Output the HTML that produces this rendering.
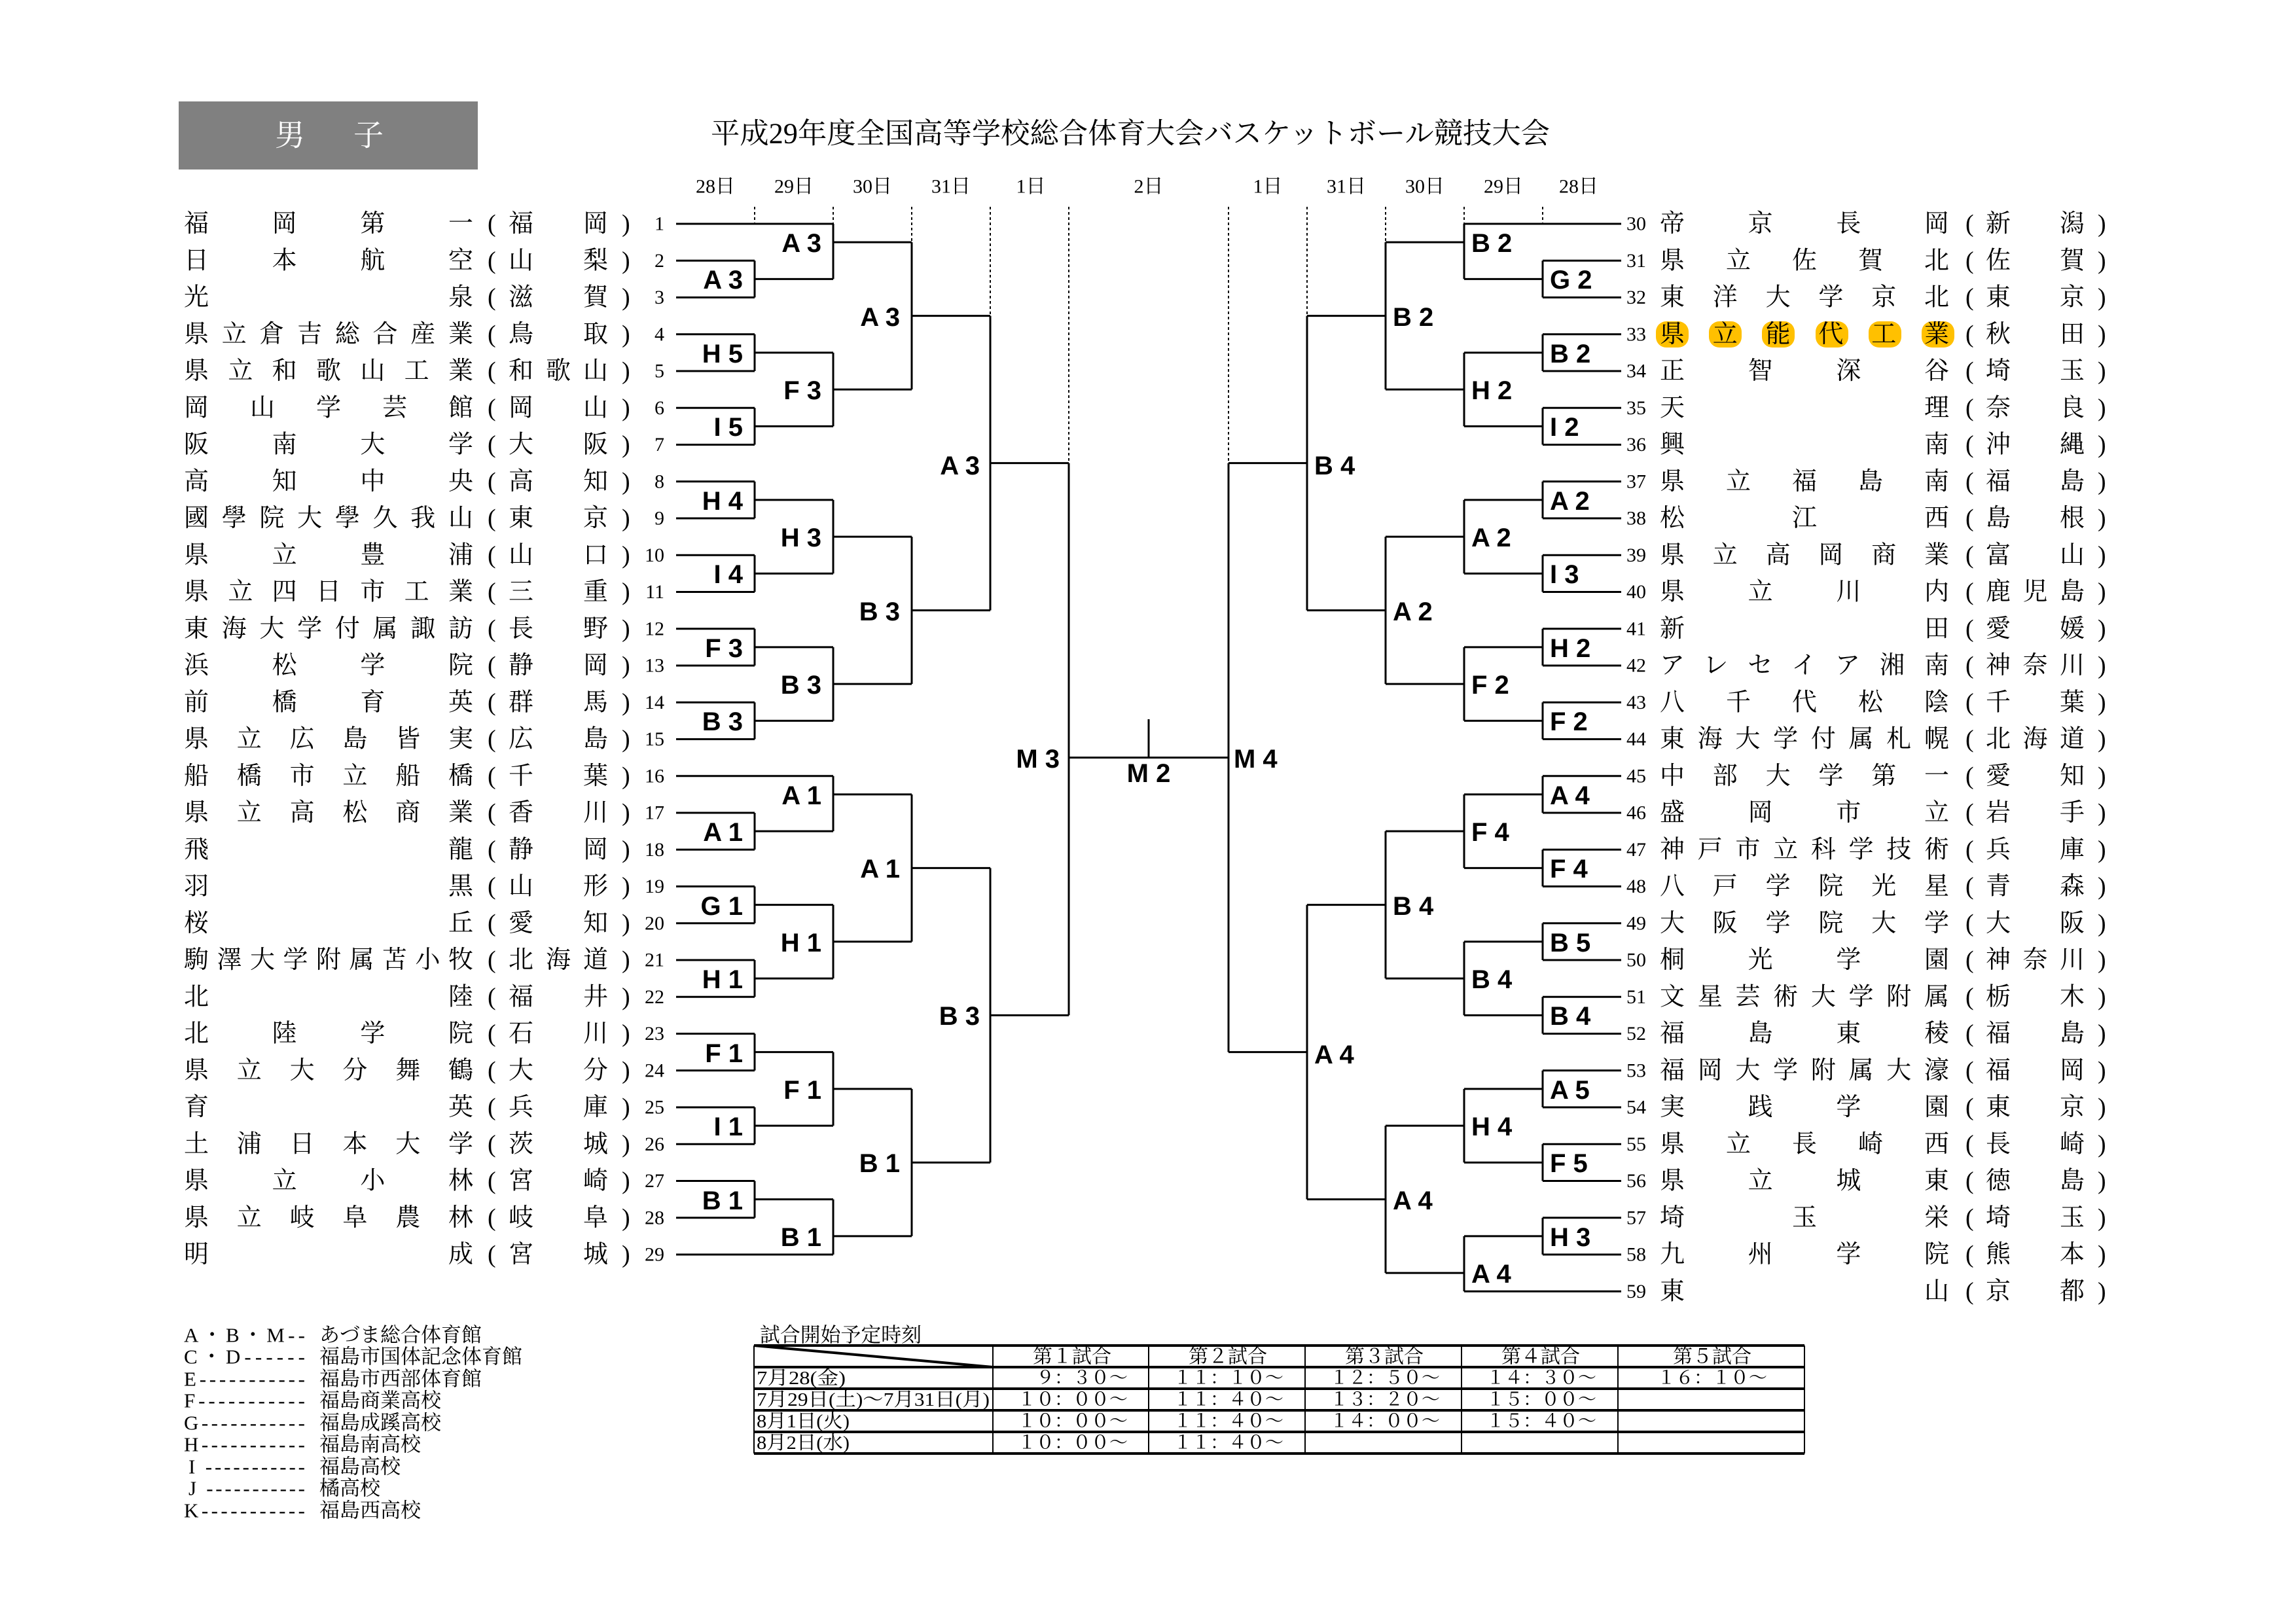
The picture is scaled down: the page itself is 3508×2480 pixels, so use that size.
<!DOCTYPE html>
<html><head><meta charset="utf-8"><style>
html,body{margin:0;padding:0;background:#fff}
svg{display:block}
.s{font-family:"Liberation Serif","Noto Serif CJK SC","Noto Serif CJK JP",serif;fill:#000}
.nm{font-size:38px}
.no{font-size:30px}
.lb{font-family:"Liberation Sans","Noto Sans CJK SC",sans-serif;font-weight:bold;font-size:40px;fill:#000}
.ln{fill:none;stroke:#000;stroke-width:3}
.dt{fill:none;stroke:#000;stroke-width:2;stroke-dasharray:4 4}
</style></head><body>
<svg xmlns="http://www.w3.org/2000/svg" width="3508" height="2480" viewBox="0 0 3508 2480">
<rect width="3508" height="2480" fill="#fff"/>
<rect x="273" y="155" width="457" height="104" fill="#808080"/>
<text class="s" x="420" y="207" font-size="46" fill="#fff" style="fill:#fff" dominant-baseline="central">男</text>
<text class="s" x="540" y="207" font-size="46" style="fill:#fff" dominant-baseline="central">子</text>
<text class="s" x="1086" y="204" font-size="44" textLength="1282" lengthAdjust="spacingAndGlyphs" dominant-baseline="central">平成29年度全国高等学校総合体育大会バスケットボール競技大会</text>

<g class="s" font-size="30" text-anchor="middle" dominant-baseline="central">
<text x="1093" y="285">28日</text><text x="1213" y="285">29日</text><text x="1333" y="285">30日</text><text x="1453" y="285">31日</text><text x="1575" y="285">1日</text>
<text x="1755" y="285">2日</text>
<text x="1937" y="285">1日</text><text x="2057" y="285">31日</text><text x="2177" y="285">30日</text><text x="2297" y="285">29日</text><text x="2412" y="285">28日</text>
</g>

<path class="dt" d="M1153 316V342M1273 316V342M1393 316V370M1513 316V482.6M1633 316V707.6M2357 316V342M2237 316V342M2117 316V370M1997 316V482.6M1877 316V707.6"/>

<!-- left bracket -->
<path class="ln" d="
M1033 342H1273
M1033 398.25H1153M1033 454.5H1153M1033 510.75H1153M1033 567H1153M1033 623.25H1153M1033 679.5H1153M1033 735.75H1153M1033 792H1153M1033 848.25H1153M1033 904.5H1153M1033 960.75H1153M1033 1017H1153M1033 1073.25H1153M1033 1129.5H1153
M1033 1185.75H1273
M1033 1242H1153M1033 1298.25H1153M1033 1354.5H1153M1033 1410.75H1153M1033 1467H1153M1033 1523.25H1153M1033 1579.5H1153M1033 1635.75H1153M1033 1692H1153M1033 1748.25H1153M1033 1804.5H1153M1033 1860.75H1153
M1033 1917H1273
M1153 398.25V454.5M1153 426.4H1273
M1153 510.75V567M1153 538.9H1273
M1153 623.25V679.5M1153 651.4H1273
M1153 735.75V792M1153 763.9H1273
M1153 848.25V904.5M1153 876.4H1273
M1153 960.75V1017M1153 988.9H1273
M1153 1073.25V1129.5M1153 1101.4H1273
M1153 1242V1298.25M1153 1270.1H1273
M1153 1354.5V1410.75M1153 1382.6H1273
M1153 1467V1523.25M1153 1495.1H1273
M1153 1579.5V1635.75M1153 1607.6H1273
M1153 1692V1748.25M1153 1720.1H1273
M1153 1804.5V1860.75M1153 1832.6H1273
M1273 342V426.4M1273 370.1H1393
M1273 538.9V651.4M1273 595.1H1393
M1273 763.9V876.4M1273 820.1H1393
M1273 988.9V1101.4M1273 1045.1H1393
M1273 1185.75V1270.1M1273 1213.9H1393
M1273 1382.6V1495.1M1273 1438.9H1393
M1273 1607.6V1720.1M1273 1663.9H1393
M1273 1832.6V1917M1273 1888.9H1393
M1393 370.1V595.1M1393 482.6H1513
M1393 820.1V1045.1M1393 932.6H1513
M1393 1213.9V1438.9M1393 1326.4H1513
M1393 1663.9V1888.9M1393 1776.4H1513
M1513 482.6V932.6M1513 707.6H1633
M1513 1326.4V1776.4M1513 1551.4H1633
M1633 707.6V1551.4
M1633 1157.6H1877
M1755 1099V1157.6
"/>
<!-- right bracket -->
<path class="ln" d="
M2477 342H2237
M2477 398.25H2357M2477 454.5H2357M2477 510.75H2357M2477 567H2357M2477 623.25H2357M2477 679.5H2357M2477 735.75H2357M2477 792H2357M2477 848.25H2357M2477 904.5H2357M2477 960.75H2357M2477 1017H2357M2477 1073.25H2357M2477 1129.5H2357M2477 1185.75H2357M2477 1242H2357M2477 1298.25H2357M2477 1354.5H2357M2477 1410.75H2357M2477 1467H2357M2477 1523.25H2357M2477 1579.5H2357M2477 1635.75H2357M2477 1692H2357M2477 1748.25H2357M2477 1804.5H2357M2477 1860.75H2357M2477 1917H2357
M2477 1973.25H2237
M2357 398.25V454.5M2357 426.4H2237
M2357 510.75V567M2357 538.9H2237
M2357 623.25V679.5M2357 651.4H2237
M2357 735.75V792M2357 763.9H2237
M2357 848.25V904.5M2357 876.4H2237
M2357 960.75V1017M2357 988.9H2237
M2357 1073.25V1129.5M2357 1101.4H2237
M2357 1185.75V1242M2357 1213.9H2237
M2357 1298.25V1354.5M2357 1326.4H2237
M2357 1410.75V1467M2357 1438.9H2237
M2357 1523.25V1579.5M2357 1551.4H2237
M2357 1635.75V1692M2357 1663.9H2237
M2357 1748.25V1804.5M2357 1776.4H2237
M2357 1860.75V1917M2357 1888.9H2237
M2237 342V426.4M2237 370.1H2117
M2237 538.9V651.4M2237 595.1H2117
M2237 763.9V876.4M2237 820.1H2117
M2237 988.9V1101.4M2237 1045.1H2117
M2237 1213.9V1326.4M2237 1270.1H2117
M2237 1438.9V1551.4M2237 1495.1H2117
M2237 1663.9V1776.4M2237 1720.1H2117
M2237 1888.9V1973.25M2237 1945.1H2117
M2117 370.1V595.1M2117 482.6H1997
M2117 820.1V1045.1M2117 932.6H1997
M2117 1270.1V1495.1M2117 1382.6H1997
M2117 1720.1V1945.1M2117 1832.6H1997
M1997 482.6V932.6M1997 707.6H1877
M1997 1382.6V1832.6M1997 1607.6H1877
M1877 707.6V1607.6
"/>

<!-- left labels -->
<g class="lb" text-anchor="end" dominant-baseline="central">
<text x="1135" y="428">A 3</text><text x="1135" y="541">H 5</text><text x="1135" y="653">I 5</text><text x="1135" y="766">H 4</text><text x="1135" y="878">I 4</text><text x="1135" y="991">F 3</text><text x="1135" y="1103">B 3</text><text x="1135" y="1272">A 1</text><text x="1135" y="1385">G 1</text><text x="1135" y="1497">H 1</text><text x="1135" y="1610">F 1</text><text x="1135" y="1722">I 1</text><text x="1135" y="1835">B 1</text>
<text x="1255" y="372">A 3</text><text x="1255" y="597">F 3</text><text x="1255" y="822">H 3</text><text x="1255" y="1047">B 3</text><text x="1255" y="1216">A 1</text><text x="1255" y="1441">H 1</text><text x="1255" y="1666">F 1</text><text x="1255" y="1891">B 1</text>
<text x="1375" y="485">A 3</text><text x="1375" y="935">B 3</text><text x="1375" y="1328">A 1</text><text x="1375" y="1778">B 1</text>
<text x="1497" y="712">A 3</text><text x="1497" y="1553">B 3</text>
<text x="1619" y="1160">M 3</text>
</g>
<text class="lb" x="1755" y="1182" text-anchor="middle" dominant-baseline="central">M 2</text>
<!-- right labels -->
<g class="lb" dominant-baseline="central">
<text x="2368" y="428">G 2</text><text x="2368" y="541">B 2</text><text x="2368" y="653">I 2</text><text x="2368" y="766">A 2</text><text x="2368" y="878">I 3</text><text x="2368" y="991">H 2</text><text x="2368" y="1103">F 2</text><text x="2368" y="1216">A 4</text><text x="2368" y="1328">F 4</text><text x="2368" y="1441">B 5</text><text x="2368" y="1553">B 4</text><text x="2368" y="1666">A 5</text><text x="2368" y="1778">F 5</text><text x="2368" y="1891">H 3</text>
<text x="2248" y="372">B 2</text><text x="2248" y="597">H 2</text><text x="2248" y="822">A 2</text><text x="2248" y="1047">F 2</text><text x="2248" y="1272">F 4</text><text x="2248" y="1497">B 4</text><text x="2248" y="1722">H 4</text><text x="2248" y="1947">A 4</text>
<text x="2128" y="485">B 2</text><text x="2128" y="935">A 2</text><text x="2128" y="1385">B 4</text><text x="2128" y="1835">A 4</text>
<text x="2008" y="712">B 4</text><text x="2008" y="1612">A 4</text>
<text x="1885" y="1160">M 4</text>
</g>

<!-- highlight row 33 -->
<g fill="#FFC000">
<rect x="2530" y="491" width="50" height="40" rx="16"/><rect x="2611" y="491" width="50" height="40" rx="16"/><rect x="2692" y="491" width="50" height="40" rx="16"/><rect x="2774" y="491" width="50" height="40" rx="16"/><rect x="2855" y="491" width="50" height="40" rx="16"/><rect x="2936" y="491" width="50" height="40" rx="16"/>
</g>

<!-- left teams -->
<g class="s nm" dominant-baseline="central">
<text x="281" y="342" textLength="442" lengthAdjust="spacing">福岡第一</text>
<text x="281" y="398.25" textLength="442" lengthAdjust="spacing">日本航空</text>
<text x="281" y="454.5" textLength="442" lengthAdjust="spacing">光泉</text>
<text x="281" y="510.75" textLength="442" lengthAdjust="spacing">県立倉吉総合産業</text>
<text x="281" y="567" textLength="442" lengthAdjust="spacing">県立和歌山工業</text>
<text x="281" y="623.25" textLength="442" lengthAdjust="spacing">岡山学芸館</text>
<text x="281" y="679.5" textLength="442" lengthAdjust="spacing">阪南大学</text>
<text x="281" y="735.75" textLength="442" lengthAdjust="spacing">高知中央</text>
<text x="281" y="792" textLength="442" lengthAdjust="spacing">國學院大學久我山</text>
<text x="281" y="848.25" textLength="442" lengthAdjust="spacing">県立豊浦</text>
<text x="281" y="904.5" textLength="442" lengthAdjust="spacing">県立四日市工業</text>
<text x="281" y="960.75" textLength="442" lengthAdjust="spacing">東海大学付属諏訪</text>
<text x="281" y="1017" textLength="442" lengthAdjust="spacing">浜松学院</text>
<text x="281" y="1073.25" textLength="442" lengthAdjust="spacing">前橋育英</text>
<text x="281" y="1129.5" textLength="442" lengthAdjust="spacing">県立広島皆実</text>
<text x="281" y="1185.75" textLength="442" lengthAdjust="spacing">船橋市立船橋</text>
<text x="281" y="1242" textLength="442" lengthAdjust="spacing">県立高松商業</text>
<text x="281" y="1298.25" textLength="442" lengthAdjust="spacing">飛龍</text>
<text x="281" y="1354.5" textLength="442" lengthAdjust="spacing">羽黒</text>
<text x="281" y="1410.75" textLength="442" lengthAdjust="spacing">桜丘</text>
<text x="281" y="1467" textLength="442" lengthAdjust="spacing">駒澤大学附属苫小牧</text>
<text x="281" y="1523.25" textLength="442" lengthAdjust="spacing">北陸</text>
<text x="281" y="1579.5" textLength="442" lengthAdjust="spacing">北陸学院</text>
<text x="281" y="1635.75" textLength="442" lengthAdjust="spacing">県立大分舞鶴</text>
<text x="281" y="1692" textLength="442" lengthAdjust="spacing">育英</text>
<text x="281" y="1748.25" textLength="442" lengthAdjust="spacing">土浦日本大学</text>
<text x="281" y="1804.5" textLength="442" lengthAdjust="spacing">県立小林</text>
<text x="281" y="1860.75" textLength="442" lengthAdjust="spacing">県立岐阜農林</text>
<text x="281" y="1917" textLength="442" lengthAdjust="spacing">明成</text>
</g>
<g class="s nm" dominant-baseline="central">
<text x="777" y="342" textLength="152" lengthAdjust="spacing">福岡</text>
<text x="777" y="398.25" textLength="152" lengthAdjust="spacing">山梨</text>
<text x="777" y="454.5" textLength="152" lengthAdjust="spacing">滋賀</text>
<text x="777" y="510.75" textLength="152" lengthAdjust="spacing">鳥取</text>
<text x="777" y="567" textLength="152" lengthAdjust="spacing">和歌山</text>
<text x="777" y="623.25" textLength="152" lengthAdjust="spacing">岡山</text>
<text x="777" y="679.5" textLength="152" lengthAdjust="spacing">大阪</text>
<text x="777" y="735.75" textLength="152" lengthAdjust="spacing">高知</text>
<text x="777" y="792" textLength="152" lengthAdjust="spacing">東京</text>
<text x="777" y="848.25" textLength="152" lengthAdjust="spacing">山口</text>
<text x="777" y="904.5" textLength="152" lengthAdjust="spacing">三重</text>
<text x="777" y="960.75" textLength="152" lengthAdjust="spacing">長野</text>
<text x="777" y="1017" textLength="152" lengthAdjust="spacing">静岡</text>
<text x="777" y="1073.25" textLength="152" lengthAdjust="spacing">群馬</text>
<text x="777" y="1129.5" textLength="152" lengthAdjust="spacing">広島</text>
<text x="777" y="1185.75" textLength="152" lengthAdjust="spacing">千葉</text>
<text x="777" y="1242" textLength="152" lengthAdjust="spacing">香川</text>
<text x="777" y="1298.25" textLength="152" lengthAdjust="spacing">静岡</text>
<text x="777" y="1354.5" textLength="152" lengthAdjust="spacing">山形</text>
<text x="777" y="1410.75" textLength="152" lengthAdjust="spacing">愛知</text>
<text x="777" y="1467" textLength="152" lengthAdjust="spacing">北海道</text>
<text x="777" y="1523.25" textLength="152" lengthAdjust="spacing">福井</text>
<text x="777" y="1579.5" textLength="152" lengthAdjust="spacing">石川</text>
<text x="777" y="1635.75" textLength="152" lengthAdjust="spacing">大分</text>
<text x="777" y="1692" textLength="152" lengthAdjust="spacing">兵庫</text>
<text x="777" y="1748.25" textLength="152" lengthAdjust="spacing">茨城</text>
<text x="777" y="1804.5" textLength="152" lengthAdjust="spacing">宮崎</text>
<text x="777" y="1860.75" textLength="152" lengthAdjust="spacing">岐阜</text>
<text x="777" y="1917" textLength="152" lengthAdjust="spacing">宮城</text>
</g>
<g class="s nm" dominant-baseline="central">
<text x="745" y="342">(</text><text x="745" y="398.25">(</text><text x="745" y="454.5">(</text><text x="745" y="510.75">(</text><text x="745" y="567">(</text><text x="745" y="623.25">(</text><text x="745" y="679.5">(</text><text x="745" y="735.75">(</text><text x="745" y="792">(</text><text x="745" y="848.25">(</text><text x="745" y="904.5">(</text><text x="745" y="960.75">(</text><text x="745" y="1017">(</text><text x="745" y="1073.25">(</text><text x="745" y="1129.5">(</text><text x="745" y="1185.75">(</text><text x="745" y="1242">(</text><text x="745" y="1298.25">(</text><text x="745" y="1354.5">(</text><text x="745" y="1410.75">(</text><text x="745" y="1467">(</text><text x="745" y="1523.25">(</text><text x="745" y="1579.5">(</text><text x="745" y="1635.75">(</text><text x="745" y="1692">(</text><text x="745" y="1748.25">(</text><text x="745" y="1804.5">(</text><text x="745" y="1860.75">(</text><text x="745" y="1917">(</text>
<text x="950" y="342">)</text><text x="950" y="398.25">)</text><text x="950" y="454.5">)</text><text x="950" y="510.75">)</text><text x="950" y="567">)</text><text x="950" y="623.25">)</text><text x="950" y="679.5">)</text><text x="950" y="735.75">)</text><text x="950" y="792">)</text><text x="950" y="848.25">)</text><text x="950" y="904.5">)</text><text x="950" y="960.75">)</text><text x="950" y="1017">)</text><text x="950" y="1073.25">)</text><text x="950" y="1129.5">)</text><text x="950" y="1185.75">)</text><text x="950" y="1242">)</text><text x="950" y="1298.25">)</text><text x="950" y="1354.5">)</text><text x="950" y="1410.75">)</text><text x="950" y="1467">)</text><text x="950" y="1523.25">)</text><text x="950" y="1579.5">)</text><text x="950" y="1635.75">)</text><text x="950" y="1692">)</text><text x="950" y="1748.25">)</text><text x="950" y="1804.5">)</text><text x="950" y="1860.75">)</text><text x="950" y="1917">)</text>
</g>
<g class="s no" text-anchor="end" dominant-baseline="central">
<text x="1015" y="342">1</text><text x="1015" y="398.25">2</text><text x="1015" y="454.5">3</text><text x="1015" y="510.75">4</text><text x="1015" y="567">5</text><text x="1015" y="623.25">6</text><text x="1015" y="679.5">7</text><text x="1015" y="735.75">8</text><text x="1015" y="792">9</text><text x="1015" y="848.25">10</text><text x="1015" y="904.5">11</text><text x="1015" y="960.75">12</text><text x="1015" y="1017">13</text><text x="1015" y="1073.25">14</text><text x="1015" y="1129.5">15</text><text x="1015" y="1185.75">16</text><text x="1015" y="1242">17</text><text x="1015" y="1298.25">18</text><text x="1015" y="1354.5">19</text><text x="1015" y="1410.75">20</text><text x="1015" y="1467">21</text><text x="1015" y="1523.25">22</text><text x="1015" y="1579.5">23</text><text x="1015" y="1635.75">24</text><text x="1015" y="1692">25</text><text x="1015" y="1748.25">26</text><text x="1015" y="1804.5">27</text><text x="1015" y="1860.75">28</text><text x="1015" y="1917">29</text>
</g>

<!-- right teams -->
<g class="s no" dominant-baseline="central">
<text x="2485" y="342">30</text><text x="2485" y="398.25">31</text><text x="2485" y="454.5">32</text><text x="2485" y="510.75">33</text><text x="2485" y="567">34</text><text x="2485" y="623.25">35</text><text x="2485" y="679.5">36</text><text x="2485" y="735.75">37</text><text x="2485" y="792">38</text><text x="2485" y="848.25">39</text><text x="2485" y="904.5">40</text><text x="2485" y="960.75">41</text><text x="2485" y="1017">42</text><text x="2485" y="1073.25">43</text><text x="2485" y="1129.5">44</text><text x="2485" y="1185.75">45</text><text x="2485" y="1242">46</text><text x="2485" y="1298.25">47</text><text x="2485" y="1354.5">48</text><text x="2485" y="1410.75">49</text><text x="2485" y="1467">50</text><text x="2485" y="1523.25">51</text><text x="2485" y="1579.5">52</text><text x="2485" y="1635.75">53</text><text x="2485" y="1692">54</text><text x="2485" y="1748.25">55</text><text x="2485" y="1804.5">56</text><text x="2485" y="1860.75">57</text><text x="2485" y="1917">58</text><text x="2485" y="1973.25">59</text>
</g>
<g class="s nm" dominant-baseline="central">
<text x="2536" y="342" textLength="442" lengthAdjust="spacing">帝京長岡</text>
<text x="2536" y="398.25" textLength="442" lengthAdjust="spacing">県立佐賀北</text>
<text x="2536" y="454.5" textLength="442" lengthAdjust="spacing">東洋大学京北</text>
<text x="2536" y="510.75" textLength="442" lengthAdjust="spacing">県立能代工業</text>
<text x="2536" y="567" textLength="442" lengthAdjust="spacing">正智深谷</text>
<text x="2536" y="623.25" textLength="442" lengthAdjust="spacing">天理</text>
<text x="2536" y="679.5" textLength="442" lengthAdjust="spacing">興南</text>
<text x="2536" y="735.75" textLength="442" lengthAdjust="spacing">県立福島南</text>
<text x="2536" y="792" textLength="442" lengthAdjust="spacing">松江西</text>
<text x="2536" y="848.25" textLength="442" lengthAdjust="spacing">県立高岡商業</text>
<text x="2536" y="904.5" textLength="442" lengthAdjust="spacing">県立川内</text>
<text x="2536" y="960.75" textLength="442" lengthAdjust="spacing">新田</text>
<text x="2536" y="1017" textLength="442" lengthAdjust="spacing">アレセイア湘南</text>
<text x="2536" y="1073.25" textLength="442" lengthAdjust="spacing">八千代松陰</text>
<text x="2536" y="1129.5" textLength="442" lengthAdjust="spacing">東海大学付属札幌</text>
<text x="2536" y="1185.75" textLength="442" lengthAdjust="spacing">中部大学第一</text>
<text x="2536" y="1242" textLength="442" lengthAdjust="spacing">盛岡市立</text>
<text x="2536" y="1298.25" textLength="442" lengthAdjust="spacing">神戸市立科学技術</text>
<text x="2536" y="1354.5" textLength="442" lengthAdjust="spacing">八戸学院光星</text>
<text x="2536" y="1410.75" textLength="442" lengthAdjust="spacing">大阪学院大学</text>
<text x="2536" y="1467" textLength="442" lengthAdjust="spacing">桐光学園</text>
<text x="2536" y="1523.25" textLength="442" lengthAdjust="spacing">文星芸術大学附属</text>
<text x="2536" y="1579.5" textLength="442" lengthAdjust="spacing">福島東稜</text>
<text x="2536" y="1635.75" textLength="442" lengthAdjust="spacing">福岡大学附属大濠</text>
<text x="2536" y="1692" textLength="442" lengthAdjust="spacing">実践学園</text>
<text x="2536" y="1748.25" textLength="442" lengthAdjust="spacing">県立長崎西</text>
<text x="2536" y="1804.5" textLength="442" lengthAdjust="spacing">県立城東</text>
<text x="2536" y="1860.75" textLength="442" lengthAdjust="spacing">埼玉栄</text>
<text x="2536" y="1917" textLength="442" lengthAdjust="spacing">九州学院</text>
<text x="2536" y="1973.25" textLength="442" lengthAdjust="spacing">東山</text>
</g>
<g class="s nm" dominant-baseline="central">
<text x="3034" y="342" textLength="151" lengthAdjust="spacing">新潟</text>
<text x="3034" y="398.25" textLength="151" lengthAdjust="spacing">佐賀</text>
<text x="3034" y="454.5" textLength="151" lengthAdjust="spacing">東京</text>
<text x="3034" y="510.75" textLength="151" lengthAdjust="spacing">秋田</text>
<text x="3034" y="567" textLength="151" lengthAdjust="spacing">埼玉</text>
<text x="3034" y="623.25" textLength="151" lengthAdjust="spacing">奈良</text>
<text x="3034" y="679.5" textLength="151" lengthAdjust="spacing">沖縄</text>
<text x="3034" y="735.75" textLength="151" lengthAdjust="spacing">福島</text>
<text x="3034" y="792" textLength="151" lengthAdjust="spacing">島根</text>
<text x="3034" y="848.25" textLength="151" lengthAdjust="spacing">富山</text>
<text x="3034" y="904.5" textLength="151" lengthAdjust="spacing">鹿児島</text>
<text x="3034" y="960.75" textLength="151" lengthAdjust="spacing">愛媛</text>
<text x="3034" y="1017" textLength="151" lengthAdjust="spacing">神奈川</text>
<text x="3034" y="1073.25" textLength="151" lengthAdjust="spacing">千葉</text>
<text x="3034" y="1129.5" textLength="151" lengthAdjust="spacing">北海道</text>
<text x="3034" y="1185.75" textLength="151" lengthAdjust="spacing">愛知</text>
<text x="3034" y="1242" textLength="151" lengthAdjust="spacing">岩手</text>
<text x="3034" y="1298.25" textLength="151" lengthAdjust="spacing">兵庫</text>
<text x="3034" y="1354.5" textLength="151" lengthAdjust="spacing">青森</text>
<text x="3034" y="1410.75" textLength="151" lengthAdjust="spacing">大阪</text>
<text x="3034" y="1467" textLength="151" lengthAdjust="spacing">神奈川</text>
<text x="3034" y="1523.25" textLength="151" lengthAdjust="spacing">栃木</text>
<text x="3034" y="1579.5" textLength="151" lengthAdjust="spacing">福島</text>
<text x="3034" y="1635.75" textLength="151" lengthAdjust="spacing">福岡</text>
<text x="3034" y="1692" textLength="151" lengthAdjust="spacing">東京</text>
<text x="3034" y="1748.25" textLength="151" lengthAdjust="spacing">長崎</text>
<text x="3034" y="1804.5" textLength="151" lengthAdjust="spacing">徳島</text>
<text x="3034" y="1860.75" textLength="151" lengthAdjust="spacing">埼玉</text>
<text x="3034" y="1917" textLength="151" lengthAdjust="spacing">熊本</text>
<text x="3034" y="1973.25" textLength="151" lengthAdjust="spacing">京都</text>
</g>
<g class="s nm" dominant-baseline="central">
<text x="3003" y="342">(</text><text x="3003" y="398.25">(</text><text x="3003" y="454.5">(</text><text x="3003" y="510.75">(</text><text x="3003" y="567">(</text><text x="3003" y="623.25">(</text><text x="3003" y="679.5">(</text><text x="3003" y="735.75">(</text><text x="3003" y="792">(</text><text x="3003" y="848.25">(</text><text x="3003" y="904.5">(</text><text x="3003" y="960.75">(</text><text x="3003" y="1017">(</text><text x="3003" y="1073.25">(</text><text x="3003" y="1129.5">(</text><text x="3003" y="1185.75">(</text><text x="3003" y="1242">(</text><text x="3003" y="1298.25">(</text><text x="3003" y="1354.5">(</text><text x="3003" y="1410.75">(</text><text x="3003" y="1467">(</text><text x="3003" y="1523.25">(</text><text x="3003" y="1579.5">(</text><text x="3003" y="1635.75">(</text><text x="3003" y="1692">(</text><text x="3003" y="1748.25">(</text><text x="3003" y="1804.5">(</text><text x="3003" y="1860.75">(</text><text x="3003" y="1917">(</text><text x="3003" y="1973.25">(</text>
<text x="3205" y="342">)</text><text x="3205" y="398.25">)</text><text x="3205" y="454.5">)</text><text x="3205" y="510.75">)</text><text x="3205" y="567">)</text><text x="3205" y="623.25">)</text><text x="3205" y="679.5">)</text><text x="3205" y="735.75">)</text><text x="3205" y="792">)</text><text x="3205" y="848.25">)</text><text x="3205" y="904.5">)</text><text x="3205" y="960.75">)</text><text x="3205" y="1017">)</text><text x="3205" y="1073.25">)</text><text x="3205" y="1129.5">)</text><text x="3205" y="1185.75">)</text><text x="3205" y="1242">)</text><text x="3205" y="1298.25">)</text><text x="3205" y="1354.5">)</text><text x="3205" y="1410.75">)</text><text x="3205" y="1467">)</text><text x="3205" y="1523.25">)</text><text x="3205" y="1579.5">)</text><text x="3205" y="1635.75">)</text><text x="3205" y="1692">)</text><text x="3205" y="1748.25">)</text><text x="3205" y="1804.5">)</text><text x="3205" y="1860.75">)</text><text x="3205" y="1917">)</text><text x="3205" y="1973.25">)</text>
</g>

<!-- legend -->
<g class="s" font-size="31" dominant-baseline="central">
<text x="281" y="2040" textLength="185" lengthAdjust="spacing">A・B・M--</text><text x="488" y="2040">あづま総合体育館</text>
<text x="281" y="2073" textLength="185" lengthAdjust="spacing">C・D------</text><text x="488" y="2073">福島市国体記念体育館</text>
<text x="281" y="2107" textLength="185" lengthAdjust="spacing">E-----------</text><text x="488" y="2107">福島市西部体育館</text>
<text x="281" y="2140" textLength="185" lengthAdjust="spacing">F-----------</text><text x="488" y="2140">福島商業高校</text>
<text x="281" y="2174" textLength="185" lengthAdjust="spacing">G-----------</text><text x="488" y="2174">福島成蹊高校</text>
<text x="281" y="2207" textLength="185" lengthAdjust="spacing">H-----------</text><text x="488" y="2207">福島南高校</text>
<text x="288" y="2241" textLength="178" lengthAdjust="spacing">I -----------</text><text x="488" y="2241">福島高校</text>
<text x="288" y="2274" textLength="178" lengthAdjust="spacing">J -----------</text><text x="488" y="2274">橘高校</text>
<text x="281" y="2308" textLength="185" lengthAdjust="spacing">K-----------</text><text x="488" y="2308">福島西高校</text>
</g>

<!-- schedule table -->
<text class="s" x="1161" y="2040" font-size="31" textLength="247" lengthAdjust="spacingAndGlyphs" dominant-baseline="central">試合開始予定時刻</text>
<g stroke="#000" fill="none">
<path stroke-width="4" d="M1152 2056H2757M1152 2089H2757M1152 2122H2757M1152 2155H2757M1152 2188H2757M1152 2221H2757M1152 2056L1517 2089"/>
<path stroke-width="2" d="M1152 2056V2221M1517 2056V2221M1755 2056V2221M1994 2056V2221M2233 2056V2221M2472 2056V2221M2757 2056V2221"/>
</g>
<g class="s" font-size="30" text-anchor="middle" dominant-baseline="central">
<text x="1638" y="2073" textLength="120" lengthAdjust="spacingAndGlyphs">第１試合</text>
<text x="1876" y="2073" textLength="120" lengthAdjust="spacingAndGlyphs">第２試合</text>
<text x="2115" y="2073" textLength="120" lengthAdjust="spacingAndGlyphs">第３試合</text>
<text x="2354" y="2073" textLength="120" lengthAdjust="spacingAndGlyphs">第４試合</text>
<text x="2616" y="2073" textLength="120" lengthAdjust="spacingAndGlyphs">第５試合</text>
</g>
<g class="s" font-size="29" dominant-baseline="central">
<text x="1156" y="2106" textLength="136" lengthAdjust="spacingAndGlyphs">7月28(金)</text>
<text x="1156" y="2139" textLength="356" lengthAdjust="spacingAndGlyphs">7月29日(土)～7月31日(月)</text>
<text x="1156" y="2172" textLength="142" lengthAdjust="spacingAndGlyphs">8月1日(火)</text>
<text x="1156" y="2205" textLength="142" lengthAdjust="spacingAndGlyphs">8月2日(水)</text>
</g>
<g class="s" font-size="28" text-anchor="end" dominant-baseline="central">
<text x="1723" y="2106">９：３０～</text><text x="1961" y="2106">１１：１０～</text><text x="2200" y="2106">１２：５０～</text><text x="2439" y="2106">１４：３０～</text><text x="2700" y="2106">１６：１０～</text>
<text x="1723" y="2139">１０：００～</text><text x="1961" y="2139">１１：４０～</text><text x="2200" y="2139">１３：２０～</text><text x="2439" y="2139">１５：００～</text>
<text x="1723" y="2172">１０：００～</text><text x="1961" y="2172">１１：４０～</text><text x="2200" y="2172">１４：００～</text><text x="2439" y="2172">１５：４０～</text>
<text x="1723" y="2205">１０：００～</text><text x="1961" y="2205">１１：４０～</text>
</g>
</svg>
</body></html>
